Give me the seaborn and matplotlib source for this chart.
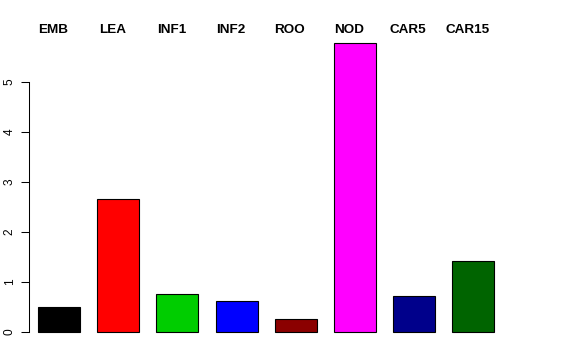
import matplotlib
matplotlib.use("Agg")
import matplotlib.pyplot as plt
import matplotlib.transforms as mtransforms
import seaborn as sns

categories = ["EMB", "LEA", "INF1", "INF2", "ROO", "NOD", "CAR5", "CAR15"]
values = [0.49, 2.66, 0.75, 0.61, 0.26, 5.78, 0.71, 1.41]
colors = ["#000000", "#FF0000", "#00CD00", "#0000FF", "#8B0000", "#FF00FF", "#00008B", "#006400"]
yticks = [0, 1, 2, 3, 4, 5]

sns.set_theme(style="white")
plt.rcParams["font.family"] = ["Liberation Sans", "DejaVu Sans"]

fig = plt.figure(figsize=(5.76, 3.6), dpi=100)
W, H = 576, 360
left_px, right_px, top_px, bottom_px = 29, 510, 30, 345
ax = fig.add_axes([left_px / W, (H - bottom_px) / H, (right_px - left_px) / W, (bottom_px - top_px) / H])

sns.barplot(x=categories, y=values, hue=categories, palette=colors, legend=False,
            width=0.71, edgecolor="black", linewidth=0.8, saturation=1, ax=ax)

ax.set_xlim(-0.507, 7.62)
ax.set_ylim(-0.27, 6.04)
ax.set_xticks([])
ax.set_xlabel("")
ax.set_ylabel("")
ax.set_yticks(yticks)
ax.set_yticklabels([str(t) for t in yticks], rotation=90, va="center", fontsize=8.6)
ax.tick_params(axis="y", direction="out", length=5.5, width=0.75, pad=4, left=True, colors="black")
for s in ["top", "right", "bottom"]:
    ax.spines[s].set_visible(False)
ax.spines["left"].set_bounds(0, 5)
ax.spines["left"].set_linewidth(0.75)
ax.spines["left"].set_color("black")

trans = mtransforms.blended_transform_factory(ax.transData, fig.transFigure)
for i, c in enumerate(categories):
    ax.text(i - 0.1, (H - 33.3) / H, c, transform=trans, ha="center", va="baseline",
            fontsize=9.7, fontweight="bold", color="black")

fig.savefig("out.png", dpi=100)
